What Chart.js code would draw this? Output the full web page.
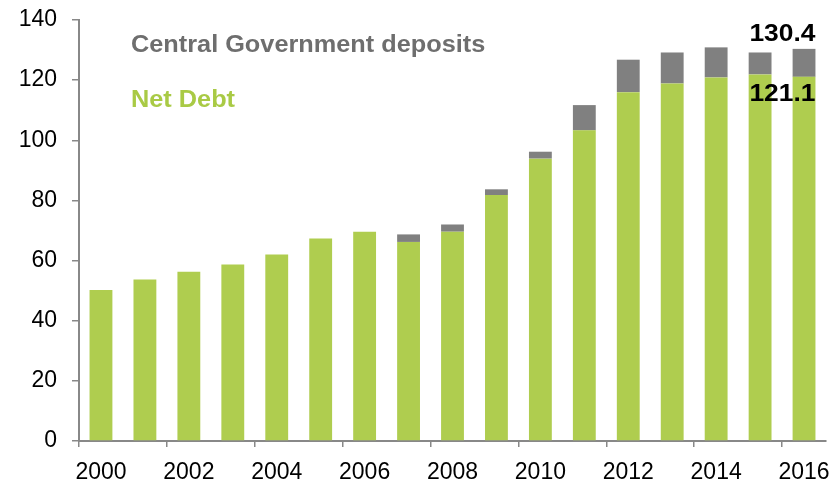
<!DOCTYPE html>
<html lang="en">
<head>
    <meta charset="UTF-8">
    <title>Net Debt</title>
    <script src="https://cdn.jsdelivr.net/npm/chart.js"></script>
    <style>
        body { margin: 0; background: #fff; }
        .chart-box { width: 829px; height: 483px; }
    </style>
</head>
<body>
    <div class="chart-box">
        <canvas id="debtChart"></canvas>
    </div>
    <script>
        const years = ['2000', '2001', '2002', '2003', '2004', '2005', '2006', '2007', '2008',
                       '2009', '2010', '2011', '2012', '2013', '2014', '2015', '2016'];
        const netDebt = [50.2, 53.7, 56.3, 58.7, 62.0, 67.3, 69.6, 66.2, 69.6,
                         81.8, 93.9, 103.3, 116.0, 118.9, 120.9, 121.9, 121.1];
        const deposits = [0, 0, 0, 0, 0, 0, 0, 2.5, 2.4,
                          1.9, 2.3, 8.4, 10.8, 10.3, 10.0, 7.3, 9.3];
        const yTicks = [0, 20, 40, 60, 80, 100, 120, 140];

        const GREEN = '#afcd4f';
        const GREY = '#808080';
        const AXIS = '#888888';

        // legend text and the two labels on the last bar
        const annotations = {
            id: 'annotations',
            afterDatasetsDraw(chart) {
                const ctx = chart.ctx;
                const area = chart.chartArea;
                const text = (str, x, y, font, color, align, sx) => {
                    ctx.save();
                    ctx.font = font;
                    ctx.fillStyle = color;
                    ctx.textAlign = align;
                    ctx.textBaseline = 'alphabetic';
                    ctx.translate(x, y);
                    ctx.scale(sx, 1);
                    ctx.fillText(str, 0, 0);
                    ctx.restore();
                };
                text('Central Government deposits', area.left + 52, area.top + 31.5,
                     'bold 23px "Liberation Sans", Arial, sans-serif', '#6e6e6e', 'left', 1.1);
                text('Net Debt', area.left + 52, area.top + 86.5,
                     'bold 23px "Liberation Sans", Arial, sans-serif', '#a9ca45', 'left', 1.1);

                const last = years.length - 1;
                const topBar = chart.getDatasetMeta(1).data[last];
                const lowBar = chart.getDatasetMeta(0).data[last];
                const total = (netDebt[last] + deposits[last]).toFixed(1);
                text(total, topBar.x + topBar.width / 2, topBar.y - 8,
                     'bold 24px "Liberation Sans", Arial, sans-serif', '#000', 'right', 1.1);
                text(netDebt[last].toFixed(1), lowBar.x + lowBar.width / 2, lowBar.y + 24,
                     'bold 24px "Liberation Sans", Arial, sans-serif', '#000', 'right', 1.1);
            }
        };

        new Chart(document.getElementById('debtChart'), {
            type: 'bar',
            data: {
                labels: years,
                datasets: [
                    {
                        label: 'Net Debt',
                        data: netDebt,
                        backgroundColor: GREEN,
                        barPercentage: 0.52,
                        categoryPercentage: 1
                    },
                    {
                        label: 'Central Government deposits',
                        data: deposits,
                        backgroundColor: GREY,
                        barPercentage: 0.52,
                        categoryPercentage: 1
                    }
                ]
            },
            options: {
                responsive: true,
                maintainAspectRatio: false,
                animation: false,
                layout: {
                    padding: { top: 20, right: 3, bottom: 0, left: 0 }
                },
                plugins: {
                    legend: { display: false },
                    tooltip: { enabled: false }
                },
                scales: {
                    x: {
                        stacked: true,
                        offset: true,
                        grid: {
                            offset: true,
                            drawOnChartArea: false,
                            tickLength: 6,
                            lineWidth: 1.5,
                            color: (c) => (c.index % 2 === 0 ? AXIS : 'rgba(0,0,0,0)')
                        },
                        border: { color: AXIS, width: 2 },
                        ticks: {
                            autoSkip: false,
                            maxRotation: 0,
                            padding: 12,
                            color: '#000',
                            font: { family: '"Liberation Sans", Arial, sans-serif', size: 23 },
                            callback: (v, i) => (i % 2 === 0 ? years[i] : '')
                        },
                        afterFit: (scale) => {
                            scale.height = 42;
                            scale.paddingLeft = 0;
                            scale.paddingRight = 0;
                        }
                    },
                    y: {
                        stacked: true,
                        min: 0,
                        max: 140,
                        afterBuildTicks: (scale) => { scale.ticks = yTicks.map(v => ({ value: v })); },
                        grid: {
                            drawOnChartArea: false,
                            tickLength: 7,
                            lineWidth: 1.5,
                            color: AXIS
                        },
                        border: { color: AXIS, width: 2 },
                        ticks: {
                            padding: 15,
                            color: '#000',
                            font: { family: '"Liberation Sans", Arial, sans-serif', size: 23 }
                        },
                        afterFit: (scale) => {
                            scale.width = 79;
                            scale.paddingTop = 0;
                            scale.paddingBottom = 0;
                        }
                    }
                }
            },
            plugins: [annotations]
        });
    </script>
</body>
</html>
